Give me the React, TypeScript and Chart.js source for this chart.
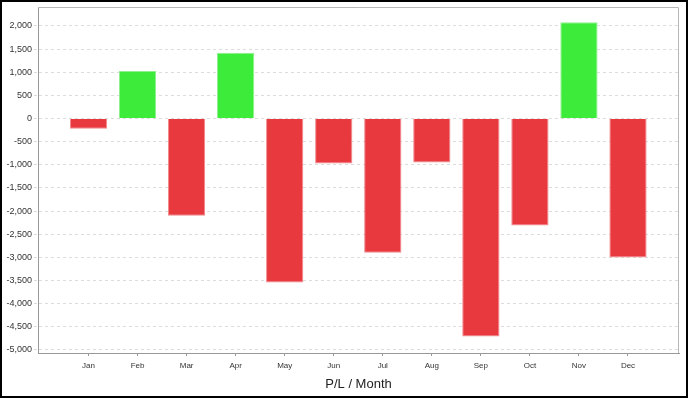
import React, { useEffect, useRef } from "react";
import { Chart, registerables } from "chart.js";

Chart.register(...registerables);

const MONTHS = ["Jan", "Feb", "Mar", "Apr", "May", "Jun", "Jul", "Aug", "Sep", "Oct", "Nov", "Dec"];
const PL_VALUES = [-220, 1030, -2100, 1420, -3540, -970, -2900, -950, -4710, -2310, 2080, -3000];
const Y_TICKS = [2000, 1500, 1000, 500, 0, -500, -1000, -1500, -2000, -2500, -3000, -3500, -4000, -4500, -5000];
const X_TITLE = "P/L / Month";

const GAIN_FILL = "#3deb3b";
const GAIN_EDGE = "#8ef08c";
const LOSS_FILL = "#e8393f";
const LOSS_EDGE = "#f08a8d";

const FONT = "'Liberation Sans', Arial, sans-serif";

const frameBorder = {
  id: "frameBorder",
  afterDraw(chart: any) {
    const { ctx, chartArea } = chart;
    ctx.save();
    ctx.strokeStyle = "#b8b8b8";
    ctx.lineWidth = 1;
    ctx.beginPath();
    ctx.moveTo(chartArea.left, chartArea.top + 0.5);
    ctx.lineTo(chartArea.right - 0.5, chartArea.top + 0.5);
    ctx.lineTo(chartArea.right - 0.5, chartArea.bottom);
    ctx.stroke();
    ctx.restore();
  },
};

export default function App() {
  const ref = useRef<HTMLCanvasElement | null>(null);

  useEffect(() => {
    if (!ref.current) return;
    const data = PL_VALUES.map((v, i) => ({ x: i + 1, y: v }));
    const chart = new Chart(ref.current, {
      type: "bar",
      data: {
        datasets: [
          {
            data: data as any,
            backgroundColor: PL_VALUES.map((v) => (v >= 0 ? GAIN_FILL : LOSS_FILL)),
            borderColor: PL_VALUES.map((v) => (v >= 0 ? GAIN_EDGE : LOSS_EDGE)),
            borderWidth: 1,
            barPercentage: 0.76,
            categoryPercentage: 1,
          },
        ],
      },
      options: {
        animation: false,
        responsive: false,
        maintainAspectRatio: false,
        layout: { padding: { top: 5, right: 7, left: 0, bottom: 0 } },
        plugins: { legend: { display: false }, tooltip: { enabled: false } },
        scales: {
          x: {
            type: "linear",
            min: -0.03,
            max: 13.04,
            offset: false,
            afterBuildTicks: (scale: any) => {
              scale.ticks = MONTHS.map((_, i) => ({ value: i + 1 }));
            },
            afterFit: (scale: any) => {
              scale.height = 43;
            },
            ticks: {
              callback: (v: any) => MONTHS[Math.round(Number(v)) - 1] ?? "",
              font: { family: FONT, size: 8 },
              color: "#333",
              padding: 5,
              maxRotation: 0,
              autoSkip: false,
            },
            grid: {
              offset: false,
              drawOnChartArea: false,
              drawTicks: true,
              tickLength: 3,
              tickColor: "#999",
            },
            border: { display: true, color: "#999", width: 1 },
            title: {
              display: true,
              text: X_TITLE,
              font: { family: FONT, size: 13 },
              color: "#222",
              padding: { top: 0, bottom: 4 },
            },
          },
          y: {
            type: "linear",
            min: -5065,
            max: 2410,
            afterBuildTicks: (scale: any) => {
              scale.ticks = Y_TICKS.map((v) => ({ value: v }));
            },
            afterFit: (scale: any) => {
              scale.width = 36;
              scale.paddingTop = 0;
              scale.paddingBottom = 0;
            },
            ticks: {
              callback: (v: any) => Number(v).toLocaleString("en-US"),
              font: { family: FONT, size: 9 },
              color: "#333",
              padding: 2,
            },
            grid: {
              color: "#dcdcdc",
              tickLength: 4,
              tickColor: "#dcdcdc",
              tickBorderDash: [3, 3],
            },
            border: { display: true, color: "#999", width: 1, dash: [3, 3] },
          },
        },
      },
      plugins: [frameBorder],
    });
    return () => chart.destroy();
  }, []);

  return (
    <div
      style={{
        position: "fixed",
        left: 0,
        top: 0,
        width: 688,
        height: 398,
        boxSizing: "border-box",
        border: "2px solid #000",
        background: "#fff",
      }}
    >
      <canvas ref={ref} width={684} height={394} style={{ display: "block", width: 684, height: 394 }} />
    </div>
  );
}
